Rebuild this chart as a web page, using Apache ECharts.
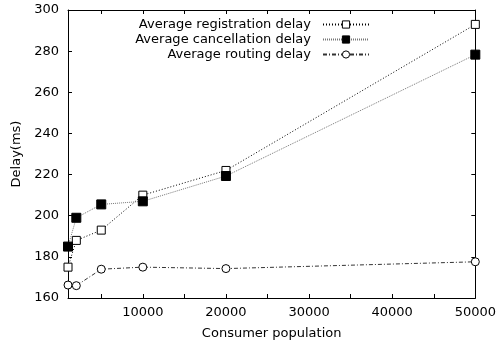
<!DOCTYPE html>
<html>
<head>
<meta charset="utf-8">
<script src="https://cdn.jsdelivr.net/npm/echarts@6/dist/echarts.min.js"></script>
<style>
  html, body { margin: 0; padding: 0; background: #fff; }
  #chart { width: 499px; height: 347px; }
</style>
</head>
<body>
<div id="chart"></div>
<script>
// consumer population (x) and delays in ms
var populations = [1000, 2000, 5000, 10000, 20000, 50000];
var registrationDelay = [175, 188, 193, 210, 222, 293];
var cancellationDelay = [185, 199, 205.5, 207, 219.3, 278.3];
var routingDelay = [166.3, 166, 174, 175, 174.3, 177.6];

var xTicks = [5000, 10000, 15000, 20000, 25000, 30000, 35000, 40000, 45000, 50000];
var xLabels = [10000, 20000, 30000, 40000, 50000];

var FONT = 'DejaVu Sans';

function pairs(ys) {
  return populations.map(function (x, i) { return [x, ys[i]]; });
}

function axisX(pos, show) {
  return {
    type: 'value', position: pos, min: 1000, max: 50000,
    name: show ? 'Consumer population' : '',
    nameLocation: 'middle', nameGap: 29,
    nameTextStyle: { fontFamily: FONT, fontSize: 13, color: '#000' },
    axisLine: { lineStyle: { color: '#000', width: 1 } },
    axisTick: { inside: true, length: 4, customValues: xTicks, lineStyle: { color: '#000' } },
    axisLabel: { show: show, customValues: xLabels, margin: 8,
      formatter: function (v) { return String(v); },
      fontFamily: FONT, fontSize: 13, color: '#000' },
    splitLine: { show: false }
  };
}

function axisY(pos, show) {
  return {
    type: 'value', position: pos, min: 160, max: 300, interval: 20,
    name: show ? 'Delay(ms)' : '',
    nameLocation: 'middle', nameGap: 45,
    nameTextStyle: { fontFamily: FONT, fontSize: 13, color: '#000' },
    axisLine: { lineStyle: { color: '#000', width: 1 } },
    axisTick: { inside: true, length: 4, lineStyle: { color: '#000' } },
    axisLabel: { show: show, margin: 9, fontFamily: FONT, fontSize: 13, color: '#000' },
    splitLine: { show: false }
  };
}

var myChart = echarts.init(document.getElementById('chart'), null, { renderer: 'canvas' });

myChart.setOption({
  animation: false,
  grid: { left: 68, right: 22, top: 10, bottom: 49 },
  legend: {
    orient: 'vertical', align: 'right', right: 124, top: 12,
    itemWidth: 46, itemHeight: 9, itemGap: 0,
    itemStyle: { borderWidth: 1 },
    textStyle: { fontFamily: FONT, fontSize: 13, lineHeight: 15, color: '#000', padding: [0, 7, 0, 0] },
    data: ['Average registration delay', 'Average cancellation delay', 'Average routing delay']
  },
  xAxis: [axisX('bottom', true), axisX('top', false)],
  yAxis: [axisY('left', true), axisY('right', false)],
  series: [
    {
      name: 'Average registration delay', type: 'line', data: pairs(registrationDelay),
      symbol: 'rect', symbolSize: 8,
      itemStyle: { color: '#fff', borderColor: '#000', borderWidth: 1 },
      lineStyle: { color: '#000', width: 1, type: [1, 2] }
    },
    {
      name: 'Average cancellation delay', type: 'line', data: pairs(cancellationDelay),
      symbol: 'rect', symbolSize: 9,
      itemStyle: { color: '#000', borderColor: '#000', borderWidth: 1 },
      lineStyle: { color: '#777', width: 1, type: [1, 1] }
    },
    {
      name: 'Average routing delay', type: 'line', data: pairs(routingDelay),
      symbol: 'circle', symbolSize: 8,
      itemStyle: { color: '#fff', borderColor: '#000', borderWidth: 1 },
      lineStyle: { color: '#333', width: 1, type: [4, 2, 1, 2] }
    }
  ]
});
</script>
</body>
</html>
